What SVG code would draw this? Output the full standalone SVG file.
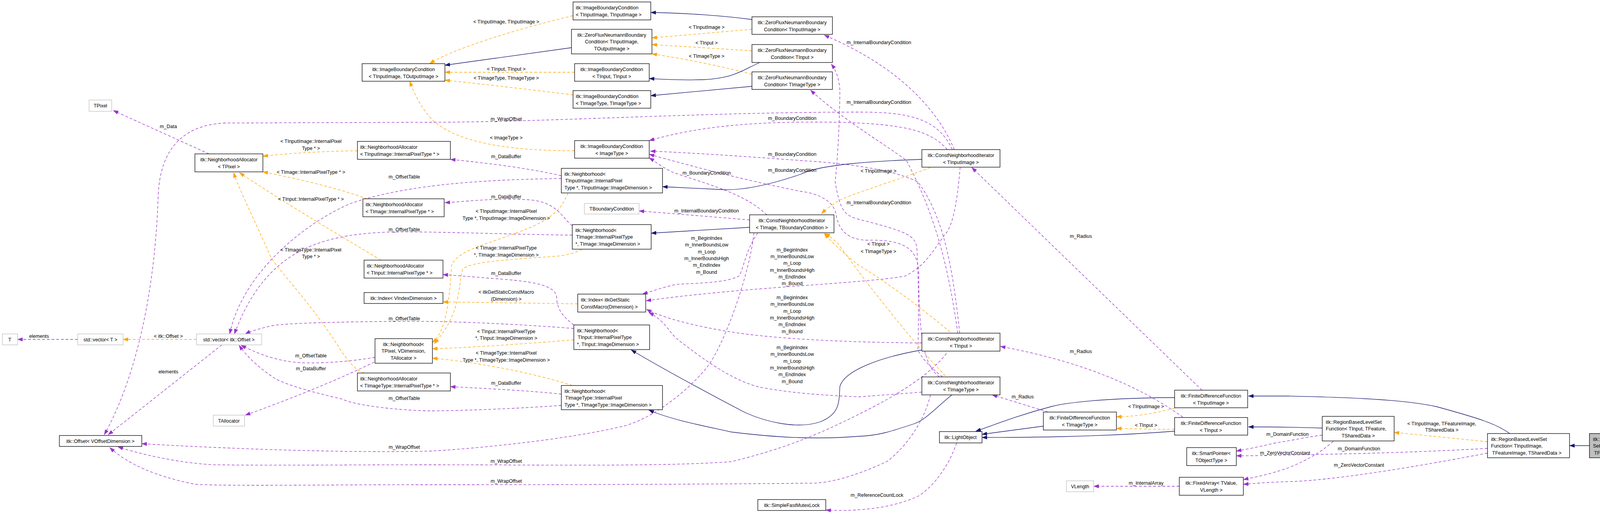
<svg xmlns="http://www.w3.org/2000/svg" width="4285" height="1316" viewBox="0 0 4285 1316">
<style>
rect{fill:#fff;stroke:#000;stroke-width:1.3}
rect.g{stroke:#bfbfbf}
rect.s{fill:#bfbfbf}
text{font-family:"Liberation Sans",Arial,sans-serif;font-size:12.5px;fill:#000}
.c{text-anchor:middle}
path{fill:none;stroke-width:1.3}
.p{stroke:#9a32cd;stroke-dasharray:7,5;marker-end:url(#mp)}
.o{stroke:#ffa500;stroke-dasharray:7,5;marker-end:url(#mo)}
.v{stroke:#191970;marker-end:url(#mv)}
</style>
<defs>
<marker id="mp" markerWidth="14" markerHeight="10" refX="13" refY="5" orient="auto" markerUnits="userSpaceOnUse"><path d="M0,0L14,5L0,10z" style="fill:#9a32cd;stroke:none"/></marker>
<marker id="mo" markerWidth="14" markerHeight="10" refX="13" refY="5" orient="auto" markerUnits="userSpaceOnUse"><path d="M0,0L14,5L0,10z" style="fill:#ffa500;stroke:none"/></marker>
<marker id="mv" markerWidth="14" markerHeight="10" refX="13" refY="5" orient="auto" markerUnits="userSpaceOnUse"><path d="M0,0L14,5L0,10z" style="fill:#191970;stroke:none"/></marker>
</defs>
<g id="edges">
<path class="p" d="M535,394 L290,283"/>
<path class="o" d="M915,386 C850,387 760,390 673,400"/>
<path class="o" d="M940,509 C860,480 750,455 673,440"/>
<path class="o" d="M975,666 C900,620 760,540 613,442"/>
<path class="o" d="M933,955 C905,946 890,920 877,904 C800,780 720,700 694,660 C650,560 610,480 598,442"/>
<path class="o" d="M1467,40 C1300,80 1150,130 1100,163"/>
<path class="v" d="M1463,122 L1139,167"/>
<path class="o" d="M1471,185 L1139,185"/>
<path class="o" d="M1467,243 C1350,228 1200,212 1139,205"/>
<path class="o" d="M1471,386 C1320,386 1180,370 1110,310 C1080,280 1060,240 1049,208"/>
<path class="v" d="M1925,50 C1850,40 1750,33 1666,32"/>
<path class="o" d="M1925,75 L1669,97"/>
<path class="o" d="M1925,130 L1669,114"/>
<path class="o" d="M1925,190 C1850,170 1750,150 1669,138"/>
<path class="v" d="M1945,160 C1900,180 1880,200 1800,204 C1740,206 1700,203 1662,201"/>
<path class="v" d="M1925,221 L1666,245"/>
<path class="p" d="M2443,383 C2400,280 2300,170 2110,90"/>
<path class="p" d="M2413,965 C2380,940 2357,913 2350,896 C2352,800 2352,720 2347,632 C2340,600 2317,592 2193,560 C2160,550 2150,535 2138,466 C2145,400 2150,300 2150,230 C2148,200 2140,180 2128,164"/>
<path class="p" d="M2452,853 C2430,700 2400,560 2320,410 C2250,360 2150,300 2075,231"/>
<path class="p" d="M2425,383 C2380,330 2300,318 2150,313 C1950,310 1800,320 1662,360"/>
<path class="p" d="M2438,383 C2400,300 2320,287 2200,287 C1800,287 1400,313 1100,313 L575,315 C470,320 410,380 405,500 C395,800 330,1000 267,1113"/>
<path class="p" d="M2457,853 C2440,700 2420,560 2350,466 C2300,440 2200,420 2050,411 C1900,400 1750,390 1665,387"/>
<path class="p" d="M2405,965 C2370,940 2352,880 2352,700 C2350,640 2320,612 2217,615 C2160,612 2145,580 2140,546 C2130,510 2090,495 2050,490 C1900,460 1750,420 1662,395"/>
<path class="p" d="M1963,550 C1900,490 1800,470 1720,440 C1690,425 1680,415 1662,404"/>
<path class="p" d="M1437,450 C1350,430 1250,418 1153,408"/>
<path class="v" d="M2360,408 C2250,412 2100,420 2050,446 C1980,470 1900,490 1840,485 C1780,482 1740,480 1696,478"/>
<path class="p" d="M1437,457 C1250,460 1050,470 900,520 C780,570 620,700 588,855"/>
<path class="v" d="M1919,582 L1667,597"/>
<path class="p" d="M1919,563 L1636,540"/>
<path class="p" d="M1465,578 C1440,560 1430,520 1360,512 C1280,506 1200,515 1139,519"/>
<path class="p" d="M1465,602 C1300,600 1100,592 1000,594 C820,600 680,640 600,855"/>
<path class="o" d="M1454,494 C1440,530 1420,560 1331,593 C1250,625 1170,640 1156,680 C1150,780 1140,850 1107,877"/>
<path class="o" d="M1490,638 C1470,650 1440,655 1423,656 C1300,665 1200,670 1184,690 C1170,750 1180,800 1112,880"/>
<path class="o" d="M1469,870 C1350,880 1200,890 1107,893"/>
<path class="o" d="M1465,987 C1350,950 1200,925 1107,917"/>
<path class="p" d="M1469,832 C1440,810 1425,790 1425,760 C1420,725 1345,719 1250,712 C1200,708 1160,705 1134,703"/>
<path class="p" d="M1469,841 C1300,828 1150,823 1100,823 C950,822 750,826 701,833 C670,840 645,846 628,855"/>
<path class="v" d="M2360,896 C2250,915 2160,950 2150,990 C2148,1030 2150,1060 2100,1080 C2040,1100 1960,1080 1907,1056 C1800,1000 1690,940 1616,896"/>
<path class="v" d="M2437,1011 C2400,1040 2370,1075 2340,1085 C2280,1105 2250,1115 2200,1117 C2100,1125 2000,1122 1872,1106 C1800,1090 1720,1075 1661,1050"/>
<path class="p" d="M1437,1009 C1350,1000 1250,995 1153,990"/>
<path class="p" d="M1437,1038 C1300,1048 1150,1052 1100,1052 C1000,1050 900,1035 877,1022 C780,1000 720,980 701,967 C660,940 630,910 612,884"/>
<path class="p" d="M958,927 C850,980 720,1030 628,1063"/>
<path class="p" d="M960,915 C900,925 820,932 760,928 C700,922 660,905 617,884"/>
<path class="o" d="M503,869 L315,869"/>
<path class="p" d="M199,869 L45,869"/>
<path class="p" d="M568,883 L277,1113"/>
<path class="p" d="M1930,596 C1920,700 1850,900 1801,951 C1740,1020 1661,1073 1600,1090 C1450,1127 1200,1150 1100,1155 C900,1160 600,1150 363,1136"/>
<path class="p" d="M2423,905 C2380,960 2300,1010 2200,1060 C2100,1110 2012,1148 1872,1182 C1700,1195 1400,1190 1100,1190 C900,1190 700,1192 547,1190 C450,1185 350,1160 302,1144"/>
<path class="p" d="M2382,1011 C2360,1100 2300,1160 2270,1182 C2230,1200 2150,1235 2082,1237 C1700,1241 1300,1241 1100,1241 C800,1241 600,1245 500,1240 C400,1220 330,1190 281,1146"/>
<path class="o" d="M1479,778 L1134,773"/>
<path class="p" d="M1940,596 C1910,640 1905,680 1893,706 C1860,725 1780,725 1731,728 C1700,735 1670,745 1645,753"/>
<path class="p" d="M2458,428 C2450,520 2440,580 2417,603 C2390,640 2370,680 2317,707 C2200,727 1900,735 1654,770"/>
<path class="p" d="M2360,878 C2200,877 2000,870 1872,850 C1780,835 1700,815 1655,792"/>
<path class="p" d="M2360,1004 L2200,1016 C2100,1012 2012,1005 1940,990 C1872,972 1800,920 1731,866 C1710,845 1700,820 1661,800"/>
<path class="p" d="M3077,999 L2488,429"/>
<path class="p" d="M3028,1068 Q2850,940 2561,887"/>
<path class="p" d="M2683,1055 L2540,1011"/>
<path class="o" d="M3007,1045 C2950,1060 2900,1067 2858,1067"/>
<path class="o" d="M3007,1099 C2950,1100 2900,1097 2858,1097"/>
<path class="v" d="M2671,1091 L2514,1112"/>
<path class="v" d="M3007,1018 C2900,1018 2750,1025 2691,1041 C2600,1065 2540,1090 2498,1104"/>
<path class="v" d="M3007,1104 C2800,1120 2600,1120 2514,1120"/>
<path class="p" d="M2449,1134 C2420,1220 2360,1270 2340,1275 C2280,1300 2200,1310 2114,1306"/>
<path class="p" d="M3019,1245 L2800,1245"/>
<path class="p" d="M3385,1114 C3340,1120 3300,1129 3260,1135 C3220,1145 3190,1150 3165,1155"/>
<path class="p" d="M3808,1148 C3600,1160 3400,1163 3300,1165 C3250,1166 3200,1167 3165,1167"/>
<path class="p" d="M3413,1130 C3390,1150 3363,1171 3300,1197 C3250,1215 3210,1222 3183,1228"/>
<path class="p" d="M3808,1160 C3600,1200 3400,1231 3300,1233 C3240,1235 3210,1238 3183,1240"/>
<path class="o" d="M3808,1131 C3700,1120 3620,1112 3569,1107"/>
<path class="v" d="M3385,1096 C3300,1093 3250,1093 3196,1093"/>
<path class="v" d="M3865,1110 C3830,1085 3790,1072 3677,1041 C3600,1025 3488,1018 3300,1014 L3196,1014"/>
<path class="v" d="M4069,1141 L4018,1141"/>
<path class="o" d="M2382,429 C2300,460 2200,490 2150,512 C2130,525 2115,535 2103,547"/>
<path class="o" d="M2432,850 C2350,780 2250,710 2200,680 C2160,650 2130,620 2110,598"/>
<path class="o" d="M2420,962 C2330,870 2200,700 2143,621 C2130,610 2120,602 2112,598"/>
<g class="c">
<text x="431" y="328">m_Data</text>
<text x="796" y="366">&lt; TInputImage::InternalPixel</text><text x="796" y="384">Type * &gt;</text>
<text x="796" y="445">&lt; TImage::InternalPixelType * &gt;</text>
<text x="1035" y="457">m_OffsetTable</text>
<text x="796" y="514">&lt; TInput::InternalPixelType * &gt;</text>
<text x="1035" y="592">m_OffsetTable</text>
<text x="796" y="644">&lt; TImageType::InternalPixel</text><text x="796" y="661">Type * &gt;</text>
<text x="100" y="865">elements</text>
<text x="431" y="865">&lt; itk::Offset &gt;</text>
<text x="1035" y="820">m_OffsetTable</text>
<text x="796" y="915">m_OffsetTable</text>
<text x="796" y="948">m_DataBuffer</text>
<text x="431" y="956">elements</text>
<text x="1035" y="1024">m_OffsetTable</text>
<text x="1035" y="1149">m_WrapOffset</text>
<text x="1296" y="60">&lt; TInputImage, TInputImage &gt;</text>
<text x="1809" y="74">&lt; TInputImage &gt;</text>
<text x="1809" y="114">&lt; TInput &gt;</text>
<text x="1809" y="148">&lt; TImageType &gt;</text>
<text x="1296" y="181">&lt; TInput, TInput &gt;</text>
<text x="1296" y="204">&lt; TImageType, TImageType &gt;</text>
<text x="1296" y="309">m_WrapOffset</text>
<text x="2028" y="307">m_BoundaryCondition</text>
<text x="1296" y="357">&lt; ImageType &gt;</text>
<text x="1296" y="405">m_DataBuffer</text>
<text x="2028" y="399">m_BoundaryCondition</text>
<text x="1809" y="447">m_BoundaryCondition</text>
<text x="2028" y="440">m_BoundaryCondition</text>
<text x="1296" y="508">m_DataBuffer</text>
<text x="1296" y="545">&lt; TInputImage::InternalPixel</text><text x="1296" y="563">Type *, TInputImage::ImageDimension &gt;</text>
<text x="1809" y="544">m_InternalBoundaryCondition</text>
<text x="1296" y="639">&lt; TImage::InternalPixelType</text><text x="1296" y="657">*, TImage::ImageDimension &gt;</text>
<text x="2250" y="113">m_InternalBoundaryCondition</text>
<text x="2250" y="266">m_InternalBoundaryCondition</text>
<text x="2250" y="523">m_InternalBoundaryCondition</text>
<text x="2249" y="442">&lt; TInputImage &gt;</text>
<text x="2249" y="629">&lt; TInput &gt;</text>
<text x="2249" y="648">&lt; TImageType &gt;</text>
<text x="1809" y="614">m_BeginIndex</text><text x="1809" y="631">m_InnerBoundsLow</text><text x="1809" y="649">m_Loop</text><text x="1809" y="666">m_InnerBoundsHigh</text><text x="1809" y="683">m_EndIndex</text><text x="1809" y="701">m_Bound</text>
<text x="2028" y="644">m_BeginIndex</text><text x="2028" y="661">m_InnerBoundsLow</text><text x="2028" y="678">m_Loop</text><text x="2028" y="696">m_InnerBoundsHigh</text><text x="2028" y="713">m_EndIndex</text><text x="2028" y="730">m_Bound</text>
<text x="2028" y="766">m_BeginIndex</text><text x="2028" y="783">m_InnerBoundsLow</text><text x="2028" y="801">m_Loop</text><text x="2028" y="818">m_InnerBoundsHigh</text><text x="2028" y="835">m_EndIndex</text><text x="2028" y="853">m_Bound</text>
<text x="2028" y="894">m_BeginIndex</text><text x="2028" y="911">m_InnerBoundsLow</text><text x="2028" y="929">m_Loop</text><text x="2028" y="946">m_InnerBoundsHigh</text><text x="2028" y="963">m_EndIndex</text><text x="2028" y="981">m_Bound</text>
<text x="1296" y="704">m_DataBuffer</text>
<text x="1296" y="752">&lt; itkGetStaticConstMacro</text><text x="1296" y="770">(Dimension) &gt;</text>
<text x="1296" y="853">&lt; TInput::InternalPixelType</text><text x="1296" y="870">*, TInput::ImageDimension &gt;</text>
<text x="1296" y="908">&lt; TImageType::InternalPixel</text><text x="1296" y="926">Type *, TImageType::ImageDimension &gt;</text>
<text x="1296" y="985">m_DataBuffer</text>
<text x="1296" y="1185">m_WrapOffset</text>
<text x="1296" y="1236">m_WrapOffset</text>
<text x="2245" y="1272">m_ReferenceCountLock</text>
<text x="2767" y="609">m_Radius</text>
<text x="2767" y="904">m_Radius</text>
<text x="2618" y="1020">m_Radius</text>
<text x="2934" y="1045">&lt; TInputImage &gt;</text>
<text x="2934" y="1093">&lt; TInput &gt;</text>
<text x="2934" y="1241">m_InternalArray</text>
<text x="3296" y="1116">m_DomainFunction</text>
<text x="3290" y="1164">m_ZeroVectorConstant</text>
<text x="3691" y="1089">&lt; TInputImage, TFeatureImage,</text><text x="3691" y="1105">TSharedData &gt;</text>
<text x="3479" y="1153">m_DomainFunction</text>
<text x="3479" y="1195">m_ZeroVectorConstant</text>
</g>
</g>
<g id="n_tpixel"><rect class="g" x="228" y="256" width="58" height="29"/><text class="c" x="257" y="275">TPixel</text></g>
<g id="n_na_tpixel"><rect x="499" y="394" width="174" height="46"/><text class="c" x="586" y="413">itk::NeighborhoodAllocator</text><text class="c" x="586" y="431">&lt; TPixel &gt;</text></g>
<g id="n_ibc_tito"><rect x="927" y="163" width="212" height="45"/><text class="c" x="1033" y="182">itk::ImageBoundaryCondition</text><text class="c" x="1033" y="200">&lt; TInputImage, TOutputImage &gt;</text></g>
<g id="n_na_tii"><rect x="915" y="362" width="238" height="46"/><text x="922" y="381">itk::NeighborhoodAllocator</text><text x="922" y="399">&lt; TInputImage::InternalPixelType * &gt;</text></g>
<g id="n_na_ti"><rect x="929" y="509" width="208" height="46"/><text x="936" y="528">itk::NeighborhoodAllocator</text><text x="936" y="546">&lt; TImage::InternalPixelType * &gt;</text></g>
<g id="n_na_tin"><rect x="932" y="666" width="202" height="46"/><text x="939" y="685">itk::NeighborhoodAllocator</text><text x="939" y="703">&lt; TInput::InternalPixelType * &gt;</text></g>
<g id="n_index_v"><rect x="932" y="749" width="202" height="28"/><text class="c" x="1033" y="768">itk::Index&lt; VIndexDimension &gt;</text></g>
<g id="n_T"><rect class="g" x="6" y="855" width="39" height="28"/><text class="c" x="25" y="874">T</text></g>
<g id="n_vec_T"><rect class="g" x="199" y="855" width="116" height="28"/><text class="c" x="257" y="874">std::vector&lt; T &gt;</text></g>
<g id="n_vec_off"><rect class="g" x="503" y="855" width="167" height="28"/><text class="c" x="586" y="874">std::vector&lt; itk::Offset &gt;</text></g>
<g id="n_nb_tpixel"><rect x="960" y="867" width="147" height="63"/><text class="c" x="1033" y="886">itk::Neighborhood&lt;</text><text class="c" x="1033" y="903">TPixel, VDimension,</text><text class="c" x="1033" y="921">TAllocator &gt;</text></g>
<g id="n_na_tit"><rect x="915" y="955" width="238" height="46"/><text x="922" y="974">itk::NeighborhoodAllocator</text><text x="922" y="992">&lt; TImageType::InternalPixelType * &gt;</text></g>
<g id="n_tallocator"><rect class="g" x="546" y="1063" width="80" height="28"/><text class="c" x="586" y="1082">TAllocator</text></g>
<g id="n_offset"><rect x="152" y="1115" width="211" height="28"/><text class="c" x="257" y="1134">itk::Offset&lt; VOffsetDimension &gt;</text></g>
<g id="n_ibc_titi"><rect x="1467" y="5" width="199" height="46"/><text x="1474" y="24">itk::ImageBoundaryCondition</text><text x="1474" y="42">&lt; TInputImage, TInputImage &gt;</text></g>
<g id="n_zfn_tito"><rect x="1463" y="75" width="206" height="63"/><text class="c" x="1566" y="94">itk::ZeroFluxNeumannBoundary</text><text class="c" x="1566" y="111">Condition&lt; TInputImage,</text><text class="c" x="1566" y="129">TOutputImage &gt;</text></g>
<g id="n_ibc_tt"><rect x="1471" y="163" width="191" height="45"/><text class="c" x="1566" y="182">itk::ImageBoundaryCondition</text><text class="c" x="1566" y="200">&lt; TInput, TInput &gt;</text></g>
<g id="n_ibc_tyty"><rect x="1467" y="232" width="199" height="45"/><text x="1474" y="251">itk::ImageBoundaryCondition</text><text x="1474" y="269">&lt; TImageType, TImageType &gt;</text></g>
<g id="n_zfn_ti"><rect x="1925" y="43" width="206" height="45"/><text class="c" x="2028" y="62">itk::ZeroFluxNeumannBoundary</text><text class="c" x="2028" y="80">Condition&lt; TInputImage &gt;</text></g>
<g id="n_zfn_tin"><rect x="1925" y="114" width="206" height="46"/><text class="c" x="2028" y="133">itk::ZeroFluxNeumannBoundary</text><text class="c" x="2028" y="151">Condition&lt; TInput &gt;</text></g>
<g id="n_zfn_tty"><rect x="1925" y="184" width="206" height="45"/><text class="c" x="2028" y="203">itk::ZeroFluxNeumannBoundary</text><text class="c" x="2028" y="221">Condition&lt; TImageType &gt;</text></g>
<g id="n_ibc_img"><rect x="1471" y="360" width="191" height="45"/><text class="c" x="1566" y="379">itk::ImageBoundaryCondition</text><text class="c" x="1566" y="397">&lt; ImageType &gt;</text></g>
<g id="n_nb_tii"><rect x="1437" y="431" width="259" height="63"/><text x="1445" y="450">itk::Neighborhood&lt;</text><text x="1447" y="467">TInputImage::InternalPixel</text><text x="1445" y="485">Type *, TInputImage::ImageDimension &gt;</text></g>
<g id="n_tbc"><rect class="g" x="1496" y="521" width="140" height="27"/><text class="c" x="1566" y="539">TBoundaryCondition</text></g>
<g id="n_nb_ti"><rect x="1465" y="575" width="202" height="63"/><text x="1473" y="594">itk::Neighborhood&lt;</text><text x="1475" y="611">TImage::InternalPixelType</text><text x="1473" y="629">*, TImage::ImageDimension &gt;</text></g>
<g id="n_cni_tbc"><rect x="1919" y="550" width="216" height="46"/><text class="c" x="2027" y="569">itk::ConstNeighborhoodIterator</text><text class="c" x="2027" y="587">&lt; TImage, TBoundaryCondition &gt;</text></g>
<g id="n_index_m"><rect x="1479" y="753" width="174" height="46"/><text x="1487" y="772">itk::Index&lt; itkGetStatic</text><text x="1487" y="790">ConstMacro(Dimension) &gt;</text></g>
<g id="n_nb_tin"><rect x="1469" y="832" width="194" height="63"/><text x="1477" y="851">itk::Neighborhood&lt;</text><text x="1479" y="868">TInput::InternalPixelType</text><text x="1477" y="886">*, TInput::ImageDimension &gt;</text></g>
<g id="n_nb_tit"><rect x="1437" y="987" width="259" height="62"/><text x="1445" y="1006">itk::Neighborhood&lt;</text><text x="1447" y="1023">TImageType::InternalPixel</text><text x="1445" y="1041">Type *, TImageType::ImageDimension &gt;</text></g>
<g id="n_mutex"><rect x="1940" y="1279" width="174" height="28"/><text class="c" x="2027" y="1298">itk::SimpleFastMutexLock</text></g>
<g id="n_cni_tii"><rect x="2360" y="383" width="200" height="45"/><text class="c" x="2460" y="402">itk::ConstNeighborhoodIterator</text><text class="c" x="2460" y="420">&lt; TInputImage &gt;</text></g>
<g id="n_cni_tin"><rect x="2360" y="853" width="200" height="46"/><text class="c" x="2460" y="872">itk::ConstNeighborhoodIterator</text><text class="c" x="2460" y="890">&lt; TInput &gt;</text></g>
<g id="n_cni_tty"><rect x="2360" y="965" width="200" height="46"/><text class="c" x="2460" y="984">itk::ConstNeighborhoodIterator</text><text class="c" x="2460" y="1002">&lt; TImageType &gt;</text></g>
<g id="n_fdf_tty"><rect x="2671" y="1055" width="187" height="46"/><text class="c" x="2764" y="1074">itk::FiniteDifferenceFunction</text><text class="c" x="2764" y="1092">&lt; TImageType &gt;</text></g>
<g id="n_light"><rect x="2405" y="1105" width="109" height="29"/><text class="c" x="2459" y="1124">itk::LightObject</text></g>
<g id="n_fdf_tii"><rect x="3007" y="999" width="187" height="45"/><text class="c" x="3100" y="1018">itk::FiniteDifferenceFunction</text><text class="c" x="3100" y="1036">&lt; TInputImage &gt;</text></g>
<g id="n_fdf_tin"><rect x="3007" y="1069" width="187" height="45"/><text class="c" x="3100" y="1088">itk::FiniteDifferenceFunction</text><text class="c" x="3100" y="1106">&lt; TInput &gt;</text></g>
<g id="n_smart"><rect x="3038" y="1146" width="127" height="46"/><text class="c" x="3101" y="1165">itk::SmartPointer&lt;</text><text class="c" x="3101" y="1183">TObjectType &gt;</text></g>
<g id="n_fixed"><rect x="3019" y="1222" width="164" height="46"/><text class="c" x="3101" y="1241">itk::FixedArray&lt; TValue,</text><text class="c" x="3101" y="1259">VLength &gt;</text></g>
<g id="n_vlength"><rect class="g" x="2730" y="1231" width="70" height="28"/><text class="c" x="2765" y="1250">VLength</text></g>
<g id="n_rbl_tin"><rect x="3385" y="1066" width="184" height="63"/><text x="3394" y="1085">itk::RegionBasedLevelSet</text><text x="3394" y="1102">Function&lt; TInput, TFeature,</text><text class="c" x="3477" y="1120">TSharedData &gt;</text></g>
<g id="n_rbl_tii"><rect x="3808" y="1110" width="210" height="62"/><text x="3817" y="1129">itk::RegionBasedLevelSet</text><text x="3817" y="1146">Function&lt; TInputImage,</text><text x="3820" y="1164">TFeatureImage, TSharedData &gt;</text></g>
<g id="n_scalar"><rect class="s" x="4069" y="1110" width="211" height="62"/><text x="4078" y="1129">itk::ScalarRegionBasedLevel</text><text x="4078" y="1146">SetFunction&lt; TInputImage,</text><text x="4081" y="1164">TFeatureImage, TSharedData &gt;</text></g>
</svg>
